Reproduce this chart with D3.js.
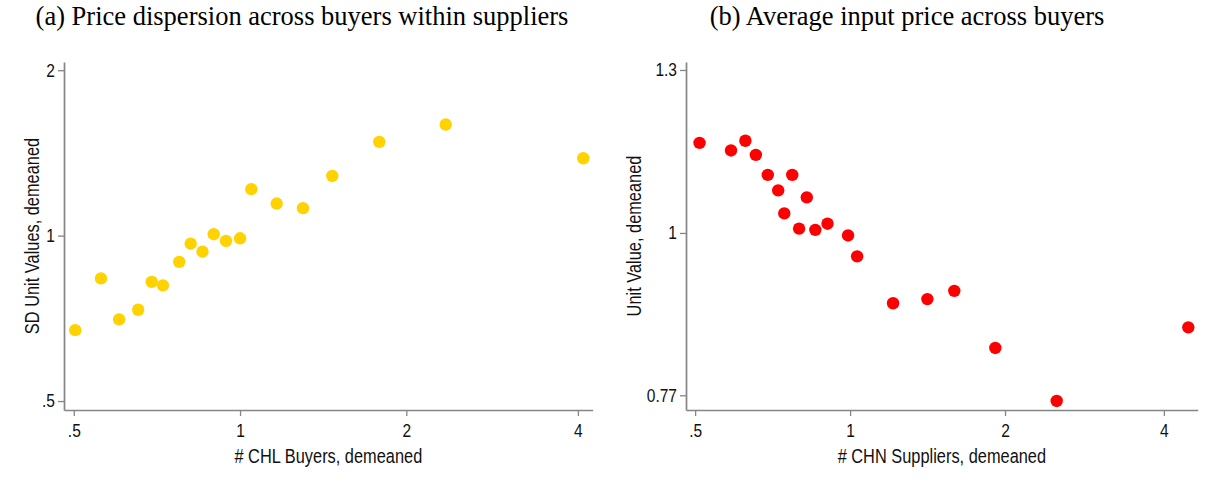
<!DOCTYPE html>
<html>
<head>
<meta charset="utf-8">
<script src="https://cdn.jsdelivr.net/npm/d3@7"></script>
<style>
  html, body { margin: 0; padding: 0; background: #fff; }
  svg { display: block; }
</style>
</head>
<body>
<svg id="chart" width="1210" height="482"></svg>
<script>
// ---------- DATA ----------
// Panel (a): # CHL buyers (demeaned) vs SD unit values (demeaned)
const buyersX = [0.503, 0.560, 0.604, 0.654, 0.692, 0.725, 0.776, 0.814, 0.855, 0.896,
                 0.943, 1.000, 1.048, 1.165, 1.300, 1.469, 1.787, 2.357, 4.183];
const sdUnitY = [0.673, 0.836, 0.704, 0.733, 0.824, 0.812, 0.896, 0.967, 0.935, 1.006,
                 0.978, 0.989, 1.215, 1.144, 1.122, 1.284, 1.481, 1.593, 1.383];
// Panel (b): # CHN suppliers (demeaned) vs unit value (demeaned)
const suppliersX = [0.510, 0.587, 0.626, 0.656, 0.692, 0.772, 0.725, 0.824, 0.745, 0.796,
                    0.856, 0.904, 0.991, 1.032, 1.212, 1.413, 1.594, 1.915, 2.520, 4.540];
const unitValueY = [1.156, 1.142, 1.160, 1.134, 1.098, 1.098, 1.071, 1.059, 1.032, 1.007,
                    1.005, 1.015, 0.996, 0.963, 0.893, 0.899, 0.911, 0.831, 0.763, 0.859];

// tick values and labels
const aXTicks = [0.5, 1, 2, 4.09];
const aXLabels = [".5", "1", "2", "4"];
const aYTicks = [0.5, 1, 2];
const aYLabels = [".5", "1", "2"];
const bXTicks = [0.5, 1, 2, 4.07];
const bXLabels = [".5", "1", "2", "4"];
const bYTicks = [0.77, 1, 1.3];
const bYLabels = ["0.77", "1", "1.3"];

const titles = ["(a) Price dispersion across buyers within suppliers",
                "(b) Average input price across buyers"];
const xTitles = ["# CHL Buyers, demeaned", "# CHN Suppliers, demeaned"];
const yTitles = ["SD Unit Values, demeaned", "Unit Value, demeaned"];

// ---------- LAYOUT ----------
const svg = d3.select("#chart");
svg.append("rect").attr("width", 1210).attr("height", 482).attr("fill", "#fff");

const SANS = "'Liberation Sans', Arial, Helvetica, sans-serif";
const SERIF = "'Liberation Serif', 'Times New Roman', Times, serif";
const SX = 0.84;       // narrow sans look
const AXIS_COLOR = "#858585";

const panels = [
  {
    xs: buyersX, ys: sdUnitY, color: "#FFD200",
    xDomain: [0.480, 4.35], xRange: [64, 592.7],
    yDomain: [0.4816, 2.07], yRange: [410, 62],
    xTicks: aXTicks, xLabels: aXLabels, yTicks: aYTicks, yLabels: aYLabels,
    title: titles[0], titleX: 302,
    xTitle: xTitles[0], yTitle: yTitles[0], yTitleX: 38.5
  },
  {
    xs: suppliersX, ys: unitValueY, color: "#FF0000",
    xDomain: [0.480, 4.735], xRange: [686, 1197.7],
    yDomain: [0.752, 1.3168], yRange: [410, 62],
    xTicks: bXTicks, xLabels: bXLabels, yTicks: bYTicks, yLabels: bYLabels,
    title: titles[1], titleX: 907,
    xTitle: xTitles[1], yTitle: yTitles[1], yTitleX: 641
  }
];

panels.forEach(p => {
  const x = d3.scaleLog().domain(p.xDomain).range(p.xRange);
  const y = d3.scaleLog().domain(p.yDomain).range(p.yRange);
  const g = svg.append("g");

  // title
  g.append("text")
    .attr("x", p.titleX).attr("y", 25)
    .attr("text-anchor", "middle")
    .attr("font-family", SERIF).attr("font-size", 26.5)
    .attr("fill", "#000")
    .text(p.title);

  // x axis
  const xa = g.append("g")
    .attr("transform", `translate(0,${p.yRange[0]})`)
    .call(d3.axisBottom(x).tickValues(p.xTicks)
      .tickFormat((d, i) => p.xLabels[i])
      .tickSizeInner(6).tickSizeOuter(0).tickPadding(8));

  // y axis
  const ya = g.append("g")
    .attr("transform", `translate(${p.xRange[0]},0)`)
    .call(d3.axisLeft(y).tickValues(p.yTicks)
      .tickFormat((d, i) => p.yLabels[i])
      .tickSizeInner(6).tickSizeOuter(0).tickPadding(3));

  [xa, ya].forEach(a => {
    a.select(".domain").attr("stroke", AXIS_COLOR).attr("stroke-width", 1.7);
    a.selectAll(".tick line").attr("stroke", AXIS_COLOR).attr("stroke-width", 1.3);
    a.selectAll(".tick text")
      .attr("font-family", SANS).attr("font-size", 18.5).attr("fill", "#111");
  });
  ya.selectAll(".tick text")
    .attr("x", -9 / SX)
    .attr("transform", `scale(${SX},1)`);
  xa.selectAll(".tick text")
    .attr("transform", `scale(${SX},1)`);

  // axis titles
  g.append("text")
    .attr("transform", `translate(${(p.xRange[0] + p.xRange[1]) / 2},463) scale(${SX},1)`)
    .attr("text-anchor", "middle")
    .attr("font-family", SANS).attr("font-size", 19.5).attr("fill", "#111")
    .text(p.xTitle);

  g.append("text")
    .attr("transform", `translate(${p.yTitleX},${(p.yRange[0] + p.yRange[1]) / 2}) rotate(-90) scale(${SX},1)`)
    .attr("text-anchor", "middle")
    .attr("font-family", SANS).attr("font-size", 19.5).attr("fill", "#111")
    .text(p.yTitle);

  // points
  const data = p.xs.map((v, i) => ({ x: v, y: p.ys[i] }));
  g.append("g").selectAll("circle")
    .data(data)
    .join("circle")
    .attr("cx", d => x(d.x))
    .attr("cy", d => y(d.y))
    .attr("r", 6.2)
    .attr("fill", p.color);
});
</script>
</body>
</html>
